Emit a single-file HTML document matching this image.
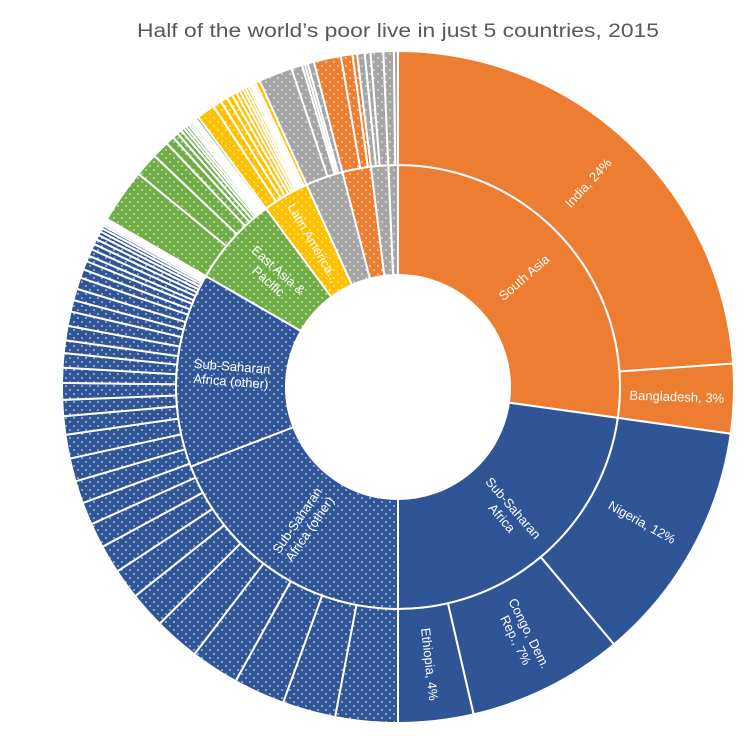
<!DOCTYPE html>
<html>
<head>
<meta charset="utf-8">
<style>
  html,body{margin:0;padding:0;background:#fff;}
  svg{display:block;font-family:"Liberation Sans",Arial,sans-serif;}
</style>
</head>
<body>
<svg id="chart" width="750" height="736" viewBox="0 0 750 736" xmlns="http://www.w3.org/2000/svg">
  <defs>
    <pattern id="dots" width="8" height="8" patternUnits="userSpaceOnUse">
      <circle cx="2" cy="2" r="0.9" fill="#ffffff" fill-opacity="0.75"/>
      <circle cx="6" cy="6" r="0.9" fill="#ffffff" fill-opacity="0.75"/>
    </pattern>
  </defs>
  <text x="398" y="37" text-anchor="middle" font-size="19" fill="#595959" textLength="522" lengthAdjust="spacingAndGlyphs">Half of the world’s poor live in just 5 countries, 2015</text>
  <g id="inner-ring"></g>
  <g id="outer-ring"></g>
  <g id="labels"></g>
</svg>
<script>
// ---- data (shares of the world's poor; angle = share / total * 360) ----
const innerNames = ["South Asia","Sub-Saharan Africa","Sub-Saharan Africa (other) A","Sub-Saharan Africa (other) B","East Asia & Pacific","Latin America","Other regions A","South Asia (other)","Other regions B","Other regions C"];
const innerValues = [98, 82, 69, 51, 23.5, 12.2, 9.8, 7.5, 4.5, 2.5];
const innerRegion = ["orange","blue","blue","blue","green","yellow","grey","orange","grey","grey"];
const innerDotted = [false,false,true,true,true,true,true,true,true,true];
const innerLabels = [["South Asia"],["Sub-Saharan","Africa"],["Sub-Saharan","Africa (other)"],["Sub-Saharan","Africa (other)"],["East Asia &","Pacific"],["Latin America..."],[],[],[],[]];

const outerValues = [86, 12, 42, 27, 13,
  10.8,9.2,8.9,8.4,7.9,6.3,5.2,4.9,4.3,3.9,3.9,4.0,4.1,3.2,2.8,2.9,2.6,2.5,2.2,2.5,2.5,2.0,2.0,2.0,1.5,1.5,1.0,1.2,1.0,0.9,0.8,0.7,0.6,0.5,0.4,0.3,0.3,0.2,0.1,
  9.4,4.1,3.0,1.5,1.0,0.8,0.6,0.5,0.5,0.4,0.4,0.3,0.3,0.2,0.5,
  3.2,1.5,1.2,1.0,0.8,0.7,0.6,0.5,0.5,0.4,0.3,0.3,0.4,0.8,
  5.8,1.9,0.5,0.5,1.1,
  4.7,2.0,0.8,
  1.3,1.0,2.2,1.8,0.7];
const outerGroupSizes = [1,1,1,1,1,39,15,14,5,3,5];
const outerGroupRegion = ["orange","orange","blue","blue","blue","blue","green","yellow","grey","orange","grey"];
const outerGroupDotted = [false,false,false,false,false,true,true,true,true,true,true];
const outerLabels = [["India, 24%"],["Bangladesh, 3%"],["Nigeria, 12%"],["Congo, Dem.","Rep., 7%"],["Ethiopia, 4%"]];

// ---- styling ----
const palette = {orange:"#ED7D31", blue:"#2F5597", green:"#70AD47", yellow:"#FFC000", grey:"#A5A5A5"};
const CX = 398, CY = 387, R0 = 112, R1 = 222, R2 = 336;
const NS = "http://www.w3.org/2000/svg";

function angleScale(values){
  const total = values.reduce((a,b)=>a+b,0);
  let acc = 0;
  return values.map(v => { const a0 = acc/total*360; acc += v; return [a0, acc/total*360]; });
}
function pt(r, deg){ const t = deg*Math.PI/180; return [CX + r*Math.sin(t), CY - r*Math.cos(t)]; }
function arcPath(ri, ro, a0, a1){
  const large = (a1-a0) > 180 ? 1 : 0;
  const p1 = pt(ro,a0), p2 = pt(ro,a1), p3 = pt(ri,a1), p4 = pt(ri,a0);
  return `M${p1[0]},${p1[1]} A${ro},${ro} 0 ${large} 1 ${p2[0]},${p2[1]} L${p3[0]},${p3[1]} A${ri},${ri} 0 ${large} 0 ${p4[0]},${p4[1]} Z`;
}
function drawSeg(g, ri, ro, a0, a1, color, dotted, name){
  const p = document.createElementNS(NS,"path");
  p.setAttribute("d", arcPath(ri, ro, a0, a1));
  p.setAttribute("fill", color);
  p.setAttribute("stroke", "#ffffff");
  p.setAttribute("stroke-width", "2");
  p.setAttribute("stroke-linejoin", "round");
  
  
  g.appendChild(p);
  if (dotted){
    const d = document.createElementNS(NS,"path");
    d.setAttribute("d", arcPath(ri+1, ro-1, a0, a1));
    d.setAttribute("fill", "url(#dots)");
    
    
    g.appendChild(d);
  }
}
function drawLabel(lines, r, a0, a1, name){
  if (!lines.length) return;
  const mid = (a0+a1)/2;
  const [x,y] = pt(r, mid);
  const rot = mid < 180 ? mid - 90 : mid - 270;
  const t = document.createElementNS(NS,"text");
  t.setAttribute("transform", `translate(${x},${y}) rotate(${rot})`);
  t.setAttribute("text-anchor","middle");
  t.setAttribute("fill","#ffffff");
  t.setAttribute("font-size","13");
  
  
  const lh = 15, start = -(lines.length-1)*lh/2 + 4.5;
  lines.forEach((ln,i)=>{
    const ts = document.createElementNS(NS,"tspan");
    ts.setAttribute("x","0");
    ts.setAttribute("y", String(start + i*lh));
    ts.textContent = ln;
    t.appendChild(ts);
  });
  document.getElementById("labels").appendChild(t);
}

// inner ring
const innerG = document.getElementById("inner-ring");
angleScale(innerValues).forEach(([a0,a1],i)=>{
  drawSeg(innerG, R0, R1, a0, a1, palette[innerRegion[i]], innerDotted[i], "inner-segment-" + i);
  drawLabel(innerLabels[i], 167, a0, a1, "inner-label-" + i);
});

// outer ring
const outerG = document.getElementById("outer-ring");
const outerAngles = angleScale(outerValues);
let idx = 0;
outerGroupSizes.forEach((n,gi)=>{
  for (let k=0;k<n;k++){
    const [a0,a1] = outerAngles[idx];
    drawSeg(outerG, R1, R2, a0, a1, palette[outerGroupRegion[gi]], outerGroupDotted[gi], "outer-segment-" + idx);
    if (k===0 && outerLabels[gi]) drawLabel(outerLabels[gi], 279, a0, a1, "outer-label-" + gi);
    idx++;
  }
});
</script>
</body>
</html>
